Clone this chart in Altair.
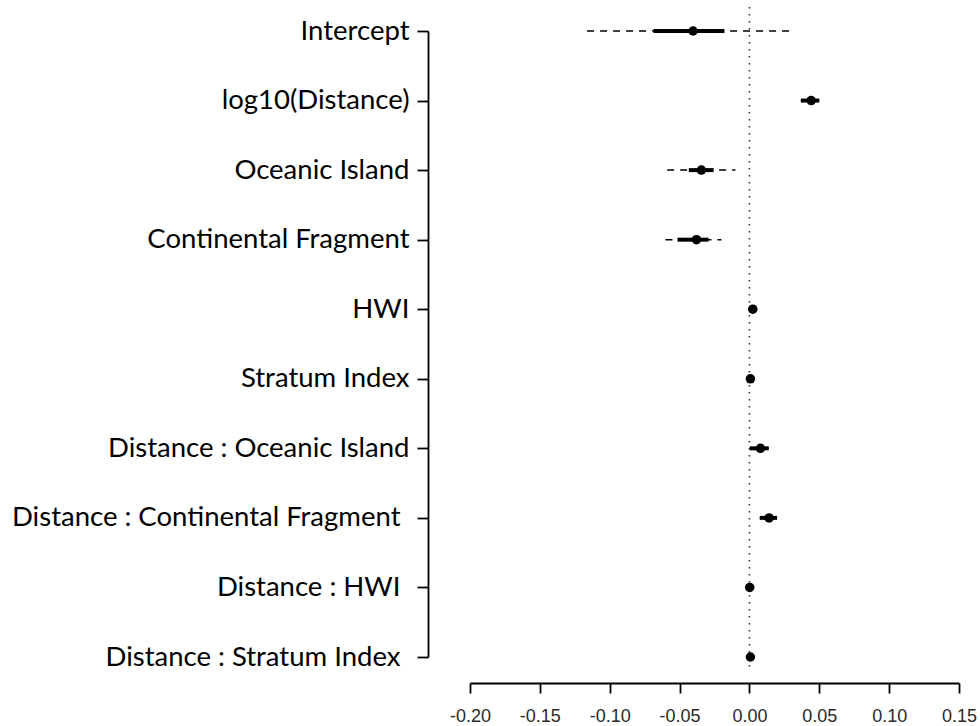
import json
import altair as alt
import pandas as pd

terms = ["Intercept", "log10(Distance)", "Oceanic Island", "Continental Fragment",
         "HWI", "Stratum Index", "Distance : Oceanic Island",
         "Distance : Continental Fragment ", "Distance : HWI ",
         "Distance : Stratum Index "]
estimate = [-0.0403, 0.0442, -0.0344, -0.0379, 0.0024, 0.0007, 0.0079, 0.0141, 0.0002, 0.0007]
inner_lo = [-0.0687, 0.0368, -0.0434, -0.0515, 0.0014, -0.0001, 0.0002, 0.0074, -0.0006, -0.0001]
inner_hi = [-0.0179, 0.0500, -0.0256, -0.0293, 0.0034, 0.0015, 0.0138, 0.0198, 0.0010, 0.0015]
outer_lo = [-0.1162, 0.0368, -0.0589, -0.0601, 0.0014, -0.0001, 0.0002, 0.0074, -0.0006, -0.0001]
outer_hi = [0.0286, 0.0500, -0.0100, -0.0200, 0.0034, 0.0015, 0.0138, 0.0198, 0.0010, 0.0015]
x_ticks = [-0.20, -0.15, -0.10, -0.05, 0.00, 0.05, 0.10, 0.15]

df = pd.DataFrame({
    "pos": list(range(1, len(terms) + 1)),
    "term": terms,
    "est": estimate,
    "ilo": inner_lo,
    "ihi": inner_hi,
    "olo": outer_lo,
    "ohi": outer_hi,
})

label_expr = json.dumps(terms, ensure_ascii=False) + "[datum.value - 1]"
# labels written with a trailing space sit further from their tick
trailing = [i + 1 for i, t in enumerate(terms) if t.endswith(" ")]
pad_test = " || ".join(f"datum.value == {p}" for p in trailing)

xscale = alt.Scale(domain=[-0.20, 0.15], nice=False, zero=False)
yscale = alt.Scale(domain=[1, 10], reverse=True, nice=False, zero=False)

xaxis = alt.Axis(values=x_ticks, title=None, grid=False, offset=26, tickSize=10,
                 labelExpr="replace(format(datum.value, '.2f'), '\u2212', '-')",
                 labelFont="Liberation Sans", labelFontSize=18, labelColor="#2a2a2a",
                 labelPadding=14, domainColor="#000", tickColor="#000",
                 domainWidth=1.8, tickWidth=1.8, labelFlush=False)
yaxis = alt.Axis(values=list(range(1, len(terms) + 1)), title=None, grid=False,
                 offset=42, tickSize=11, labelExpr=label_expr,
                 labelFont="Lato", labelFontSize=27.5, labelColor="#000",
                 labelPadding={"condition": {"test": pad_test, "value": 17}, "value": 8},
                 labelLimit=0, domainColor="#000", tickColor="#000",
                 domainWidth=1.8, tickWidth=1.8)

base = alt.Chart(df)

outer = base.mark_rule(color="black", strokeWidth=1.5, strokeDash=[7, 6]).encode(
    x=alt.X("olo:Q", scale=xscale, axis=xaxis),
    x2="ohi:Q",
    y=alt.Y("pos:Q", scale=yscale, axis=yaxis),
)
inner = base.mark_rule(color="black", strokeWidth=4).encode(
    x=alt.X("ilo:Q", scale=xscale),
    x2="ihi:Q",
    y=alt.Y("pos:Q", scale=yscale),
)
points = base.mark_circle(color="black", size=90, opacity=1).encode(
    x=alt.X("est:Q", scale=xscale),
    y=alt.Y("pos:Q", scale=yscale),
)
zero = alt.Chart(pd.DataFrame({"z": [0.0]})).mark_rule(
    color="#333", strokeWidth=1.6, strokeDash=[1.6, 5.4]
).encode(
    x=alt.X("z:Q", scale=xscale),
    y=alt.value(-24),
    y2=alt.value(640),
)

chart = alt.layer(zero, outer, inner, points).properties(
    width=489, height=626,
    autosize=alt.AutoSizeParams(type="none"),
    padding={"left": 470, "top": 31, "right": 21, "bottom": 69},
    background="white",
).configure_view(stroke=None)

chart.save("out.html", embed_options={"renderer": "svg", "actions": False})
